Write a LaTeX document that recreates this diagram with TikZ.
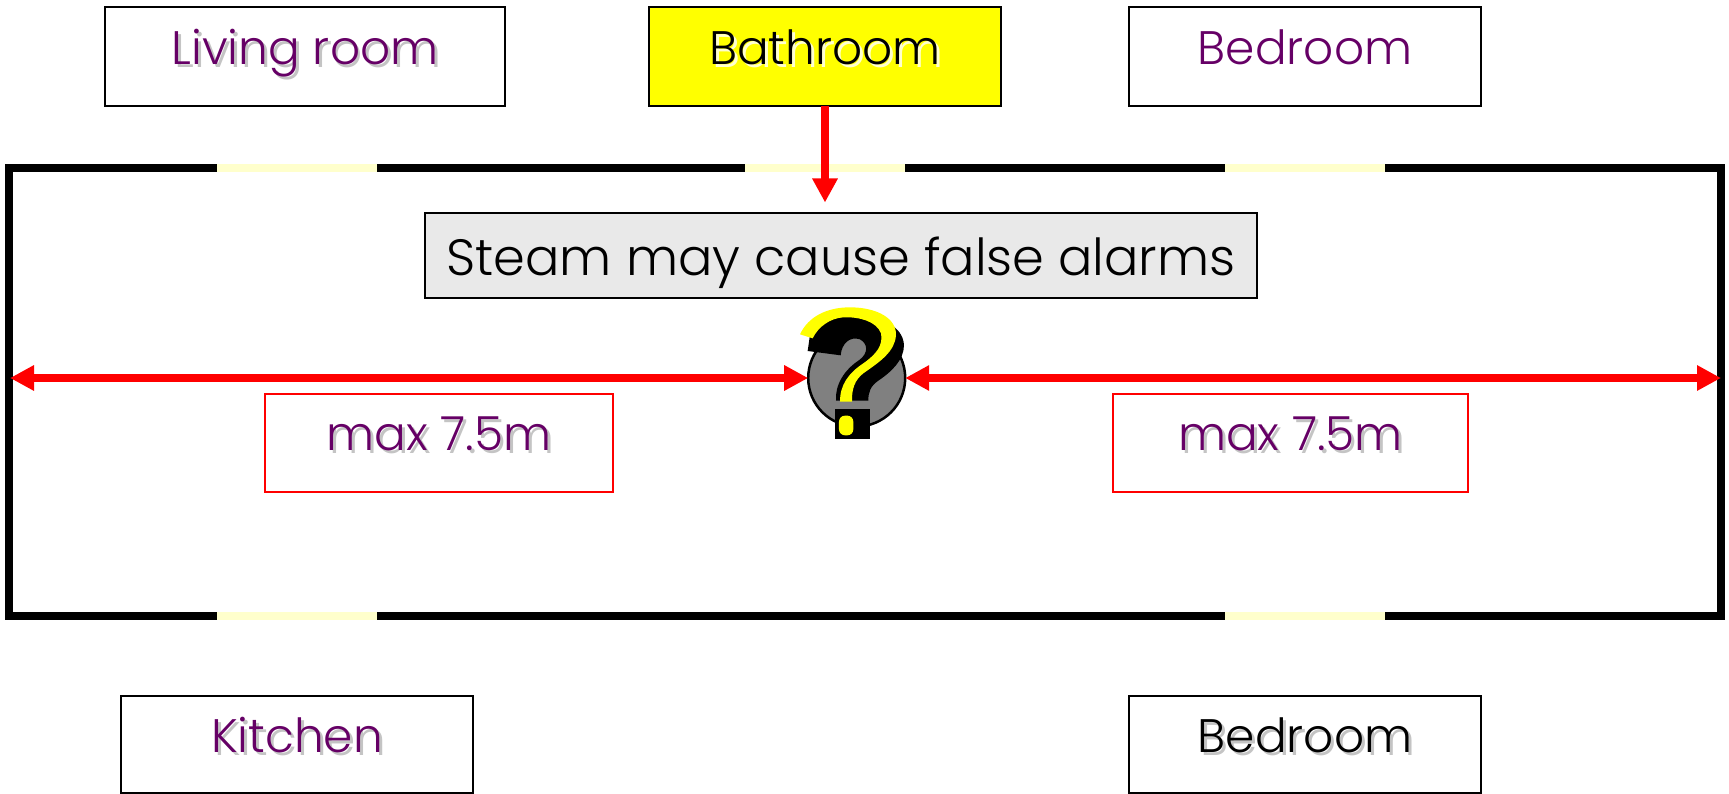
\documentclass[tikz,border=0pt]{standalone}
\usepackage{fontspec}
\setmainfont{Poppins}[UprightFont=* Light]
\usetikzlibrary{arrows.meta}
\definecolor{roomtext}{HTML}{660066}
\definecolor{opening}{HTML}{FFFFCC}
\definecolor{notefill}{HTML}{E9E9E9}
\definecolor{pureyellow}{HTML}{FFFF00}
\definecolor{softshadow}{HTML}{C4C4C4}
\definecolor{paleshadow}{HTML}{FFFFD0}
\newcommand{\plainlbl}[3]{\raisebox{#1pt}[0pt][0pt]{\color{#2}#3}}
\newcommand{\shadlbl}[4]{\raisebox{#1pt}[0pt][0pt]{\rlap{\kern3pt\raisebox{-3.5pt}{\color{#3}#4}}\color{#2}#4}}
\tikzset{
  room/.style={draw=black,line width=2.8pt,inner sep=0pt,outer sep=0pt,minimum height=99pt,font=\fontsize{47}{52}\selectfont},
  limitbox/.style={draw=red,fill=white,line width=2.2pt,inner sep=0pt,outer sep=0pt,minimum height=98pt,font=\fontsize{47}{52}\selectfont},
  notebox/.style={draw=black,fill=notefill,line width=2.8pt,inner sep=0pt,outer sep=0pt,minimum width=832pt,minimum height=85pt,font=\fontsize{51}{56}\selectfont},
  wall/.style={draw=black,line width=8pt,miter limit=10},
  gap/.style={fill=opening,draw=none},
  redline/.style={draw=red,line width=8pt,-{Triangle[length=24pt,width=24pt]}},
  redboth/.style={draw=red,line width=8pt,{Triangle[length=24pt,width=24pt]}-{Triangle[length=24pt,width=24pt]}},
}
\begin{document}
\begin{tikzpicture}[x=1pt,y=-1pt]
\useasboundingbox (0,0) rectangle (1729,794);
% walls
\draw[wall] (9,168) rectangle (1721,616);
\fill[gap] (217,164) rectangle (377,172);
\fill[gap] (745,164) rectangle (905,172);
\fill[gap] (1225,164) rectangle (1385,172);
\fill[gap] (217,612) rectangle (377,620);
\fill[gap] (1225,612) rectangle (1385,620);
% rooms
\node[room,minimum width=400pt] (living) at (305,56.5) {\shadlbl{-8}{roomtext}{softshadow}{Living room}};
\node[room,fill=pureyellow,minimum width=352pt] (bath) at (825,56.5) {\shadlbl{-8}{black}{paleshadow}{Bathroom}};
\node[room,minimum width=352pt] (bedtop) at (1305,56.5) {\plainlbl{-8}{roomtext}{Bedroom}};
\node[room,minimum width=352pt,minimum height=97pt] (kitchen) at (297,744.5) {\shadlbl{-7.5}{roomtext}{softshadow}{Kitchen}};
\node[room,minimum width=352pt,minimum height=97pt] (bedbot) at (1305,744.5) {\shadlbl{-7.5}{black}{softshadow}{Bedroom}};
% note and limits
\node[notebox] (note) at (841,255.5) {\plainlbl{-20.5}{black}{Steam may cause false alarms}};
\node[limitbox,minimum width=348pt] (limL) at (439,443) {\shadlbl{-7}{roomtext}{softshadow}{max 7.5m}};
\node[limitbox,minimum width=355pt] (limR) at (1290.5,443) {\shadlbl{-7}{roomtext}{softshadow}{max 7.5m}};
% detector
\node[circle,draw=black,fill=black!50,line width=2.5pt,minimum size=97pt,inner sep=0pt,outer sep=0pt] (det) at (856.7,378) {};
\begin{scope}[shift={(720,280)},x=0.3333pt,y=-0.3333pt]
\fill[black] (263,213) -- (270,165) .. controls (300,120) and (350,105) .. (400,108)
  .. controls (480,110) and (548,135) .. (552,195)
  .. controls (552,240) and (515,275) .. (475,302)
  .. controls (452,318) and (445,335) .. (445,362) -- (348,362)
  .. controls (345,315) and (372,270) .. (418,240)
  .. controls (445,220) and (445,192) .. (420,178)
  .. controls (390,168) and (365,190) .. (362,226) -- cycle;
\fill[pureyellow] (240,163) .. controls (265,110) and (320,82) .. (390,82)
  .. controls (470,82) and (530,115) .. (528,165)
  .. controls (525,215) and (480,245) .. (430,280)
  .. controls (405,300) and (395,325) .. (396,365) -- (360,365)
  .. controls (360,315) and (385,280) .. (430,250)
  .. controls (470,222) and (490,195) .. (483,160)
  .. controls (470,125) and (420,110) .. (370,112)
  .. controls (330,115) and (295,140) .. (278,175) -- cycle;
\fill[black] (345,388) rectangle (450,478);
\fill[pureyellow,rounded corners=6pt] (357,407) rectangle (400,466);
\end{scope}
% connectors
\coordinate (noteTip) at (825,202.5);
\coordinate (wallL) at (10,378);
\coordinate (wallR) at (1721,378);
\draw[redline] (bath.south) -- (noteTip);
\draw[redboth] (wallL) -- (det.west);
\draw[redboth] (det.east) -- (wallR);
\end{tikzpicture}
\end{document}
